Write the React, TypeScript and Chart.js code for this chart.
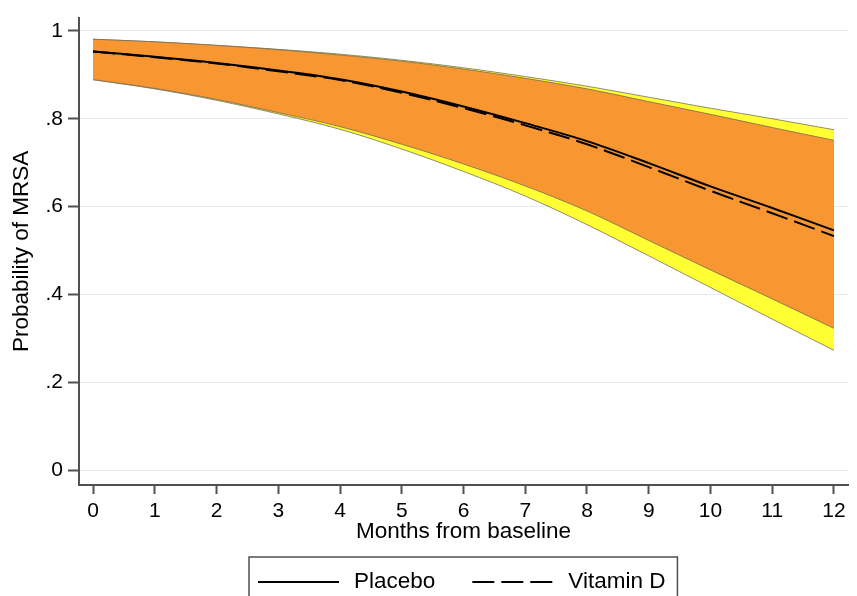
import React, { useEffect, useRef } from 'react';
import { Chart, registerables } from 'chart.js';

Chart.register(...registerables);

// ---- data ----
const months = [0, 1, 2, 3, 4, 5, 6, 7, 8, 9, 10, 11, 12];
const xTickValues = [0, 1, 2, 3, 4, 5, 6, 7, 8, 9, 10, 11, 12];
const yTickValues = [0, 0.2, 0.4, 0.6, 0.8, 1];
const yTickLabels = ['0', '.2', '.4', '.6', '.8', '1'];

const placebo = [0.953, 0.941, 0.927, 0.91, 0.89, 0.862, 0.828, 0.79, 0.749, 0.699, 0.646, 0.597, 0.546];
const vitaminD = [0.953, 0.94, 0.926, 0.908, 0.888, 0.859, 0.824, 0.785, 0.742, 0.69, 0.636, 0.585, 0.533];

const outerUpper = [0.981, 0.975, 0.967, 0.958, 0.947, 0.933, 0.916, 0.896, 0.874, 0.849, 0.824, 0.8, 0.775];
const outerLower = [0.889, 0.868, 0.842, 0.811, 0.776, 0.731, 0.68, 0.624, 0.559, 0.488, 0.416, 0.344, 0.273];
const innerUpper = [0.981, 0.975, 0.967, 0.957, 0.945, 0.931, 0.913, 0.892, 0.868, 0.839, 0.81, 0.78, 0.751];
const innerLower = [0.889, 0.869, 0.844, 0.814, 0.782, 0.742, 0.697, 0.647, 0.59, 0.523, 0.456, 0.39, 0.323];

const seriesLabels = ['Placebo', 'Vitamin D'];
const xTitle = 'Months from baseline';
const yTitle = 'Probability of MRSA';

const FONT = "'Liberation Sans', Arial, Helvetica, sans-serif";
const YELLOW = '#FFFF33';
const ORANGE = '#F89632';
const EDGE = 'rgba(110,105,85,0.85)';
const AXIS = '#505050';
const TITLE_SIZE = 22.5;
const TICK_SIZE = 21;

const pts = (ys: number[]) => months.map((m, i) => ({ x: m, y: ys[i] }));

export default function App() {
  const ref = useRef<HTMLCanvasElement>(null);

  useEffect(() => {
    const canvas = ref.current;
    if (!canvas) return;

    const framedLegend = {
      id: 'framedLegend',
      afterDraw(chart: any) {
        const ctx = chart.ctx;
        const items = chart.data.datasets.filter((d: any) => d.inLegend);
        ctx.save();
        ctx.font = `${TITLE_SIZE}px ${FONT}`;
        const sample = 81;
        const gap = 15;
        const itemGap = 37;
        const padL = 9;
        const padR = 12;
        const widths = items.map((d: any) => ctx.measureText(d.label).width);
        let total = padL + padR;
        items.forEach((d: any, i: number) => {
          total += sample + gap + widths[i];
          if (i > 0) total += itemGap;
        });
        const cx = (chart.chartArea.left + chart.chartArea.right) / 2;
        const left = Math.round(cx - total / 2);
        const top = 557;
        const y = 582;
        ctx.strokeStyle = AXIS;
        ctx.lineWidth = 1.5;
        ctx.strokeRect(left, top, total, 80);
        let x = left + padL;
        items.forEach((d: any, i: number) => {
          if (i > 0) x += itemGap;
          ctx.beginPath();
          ctx.setLineDash(d.borderDash || []);
          ctx.strokeStyle = d.borderColor;
          ctx.lineWidth = d.borderWidth;
          ctx.moveTo(x, y);
          ctx.lineTo(x + sample, y);
          ctx.stroke();
          ctx.setLineDash([]);
          x += sample + gap;
          ctx.fillStyle = '#000';
          ctx.textBaseline = 'middle';
          ctx.textAlign = 'left';
          ctx.fillText(d.label, x, y);
          x += widths[i];
        });
        ctx.restore();
      },
    };

    const band = (data: number[], fillColor: string | null, order: number) => ({
      label: 'band',
      data: pts(data),
      borderColor: EDGE,
      borderWidth: 0.9,
      backgroundColor: fillColor || 'transparent',
      fill: fillColor ? '+1' : false,
      tension: 0.35,
      pointRadius: 0,
      order,
    });

    const chart = new Chart(canvas, {
      type: 'line',
      data: {
        datasets: [
          band(outerUpper, YELLOW, 5),
          band(outerLower, null, 4),
          band(innerUpper, ORANGE, 3),
          band(innerLower, null, 2),
          {
            label: seriesLabels[0],
            inLegend: true,
            data: pts(placebo),
            borderColor: '#000',
            borderWidth: 2,
            fill: false,
            tension: 0.35,
            pointRadius: 0,
            order: 1,
          },
          {
            label: seriesLabels[1],
            inLegend: true,
            data: pts(vitaminD),
            borderColor: '#000',
            borderWidth: 2,
            borderDash: [22, 7],
            fill: false,
            tension: 0.35,
            pointRadius: 0,
            order: 0,
          },
        ] as any,
      },
      options: {
        responsive: false,
        animation: false,
        devicePixelRatio: 1,
        layout: { padding: { left: 0, right: 9, top: 9, bottom: 51 } },
        plugins: {
          legend: { display: false },
          tooltip: { enabled: false },
        },
        scales: {
          x: {
            type: 'linear',
            min: -0.227,
            max: 12.227,
            afterBuildTicks: (s: any) => {
              s.ticks = xTickValues.map((v) => ({ value: v }));
            },
            afterFit: (s: any) => {
              s.height = 60;
            },
            ticks: {
              autoSkip: false,
              maxRotation: 0,
              padding: 5,
              color: '#000',
              font: { family: FONT, size: TICK_SIZE },
            },
            grid: {
              drawOnChartArea: false,
              drawTicks: true,
              tickLength: 9,
              tickColor: AXIS,
              tickWidth: 2,
            },
            border: { color: AXIS, width: 2 },
            title: {
              display: true,
              text: xTitle,
              color: '#000',
              font: { family: FONT, size: TITLE_SIZE },
              padding: { top: 0, bottom: 0 },
            },
          },
          y: {
            type: 'linear',
            min: -0.0335,
            max: 1.0302,
            afterBuildTicks: (s: any) => {
              s.ticks = yTickValues.map((v) => ({ value: v }));
            },
            afterFit: (s: any) => {
              s.width = 79;
            },
            ticks: {
              padding: 5,
              color: '#000',
              font: { family: FONT, size: TICK_SIZE },
              callback: (v: any) => {
                const i = yTickValues.findIndex((t) => Math.abs(t - Number(v)) < 1e-6);
                return i >= 0 ? yTickLabels[i] : '';
              },
            },
            grid: {
              color: '#E4ECF2',
              lineWidth: 1,
              tickLength: 11,
              tickColor: AXIS,
              tickWidth: 2,
            },
            border: { color: AXIS, width: 2 },
            title: {
              display: true,
              text: yTitle,
              color: '#000',
              font: { family: FONT, size: TITLE_SIZE },
              padding: { top: 8.5, bottom: 0 },
            },
          },
        },
      } as any,
      plugins: [framedLegend],
    });

    return () => {
      chart.destroy();
    };
  }, []);

  return (
    <div style={{ position: 'absolute', left: 0, top: 0, width: 857, height: 596, background: '#fff', overflow: 'hidden' }}>
      <canvas ref={ref} width={857} height={596} style={{ display: 'block' }} />
    </div>
  );
}
